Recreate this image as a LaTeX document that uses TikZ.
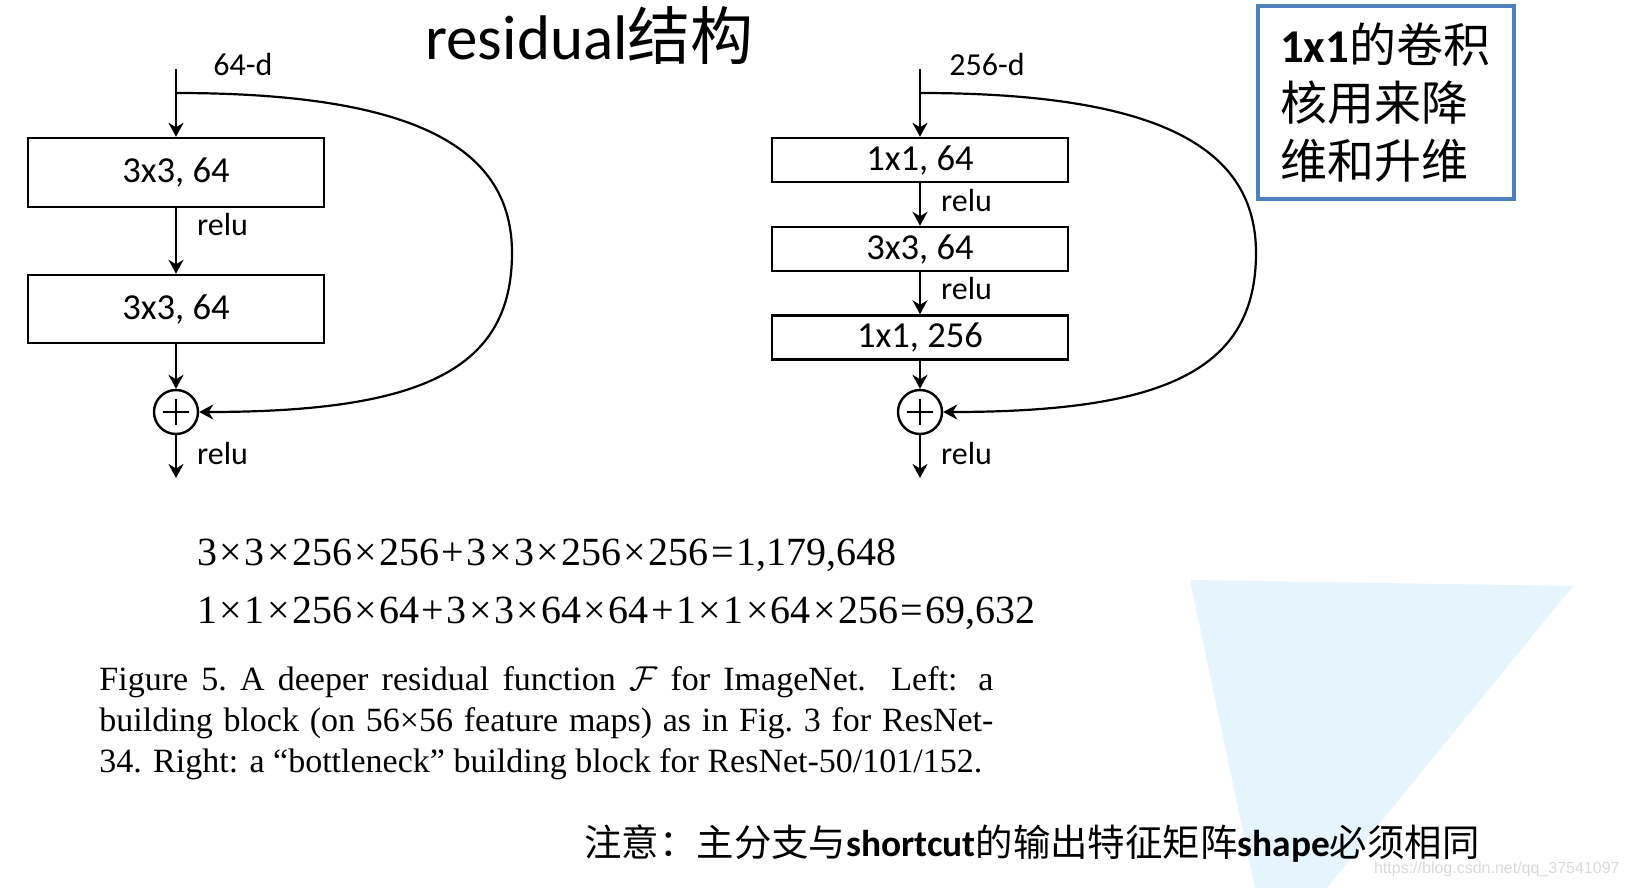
\documentclass[tikz,border=0pt]{standalone}
\usepackage{fontspec}
\setmainfont{Liberation Serif}
\newfontfamily\carlito{Carlito}
\newfontfamily\cjk{Noto Sans CJK SC}
\newfontfamily\webfont{Liberation Sans}
\usetikzlibrary{arrows.meta,positioning}
\definecolor{boxblue}{HTML}{4F81BD}
\definecolor{lightsky}{HTML}{E6F5FD}
\definecolor{wmgray}{HTML}{D9D9D9}
\newcommand{\op}[1]{\hspace{1.2pt}#1\hspace{1.2pt}}

\begin{document}
\begin{tikzpicture}[x=0.5pt,y=0.5pt,
  >={Stealth[length=7pt,width=7.5pt]},
  every node/.style={inner sep=0pt},
  layer/.style={draw,line width=1.2pt,minimum width=148pt,font=\carlito\fontsize{18.3}{20}\selectfont},
  lbl/.style={font=\carlito\fontsize{16}{18}\selectfont},
  addop/.style={draw,circle,line width=1.2pt,minimum size=22pt,
    path picture={\draw[line width=1.2pt]
      ([xshift=-6.5pt]path picture bounding box.center) -- ([xshift=6.5pt]path picture bounding box.center)
      ([yshift=-6.5pt]path picture bounding box.center) -- ([yshift=6.5pt]path picture bounding box.center);}},
  flow/.style={->,line width=1.1pt}]
\useasboundingbox (0,0) rectangle (1630,-888);
\fill[lightsky] (1190,-580) -- (1573,-586) -- (1327,-888) -- (1255,-888) -- cycle;

% title
\node[anchor=base west] (title) at (425,-60) {\fontsize{31.5}{34}\selectfont{\carlito residual}{\cjk 结构}};

% plain block
\coordinate (l-in) at (176,-69);
\coordinate (l-split) at (176,-93);
\node[layer,minimum height=34.5pt] (l-conv1) at (176,-172.5) {3x3, 64};
\node[layer,minimum height=34pt] (l-conv2) at (176,-309) {3x3, 64};
\node[addop] (l-add) at (176,-412) {};
\coordinate (l-out) at (176,-478);
\coordinate (l-far) at (512,-253);
\node[lbl,anchor=west] (l-dim) at (213,-65) {64-d};
\draw[flow] (l-in) -- (l-conv1);
\draw[flow] (l-conv1) -- node[lbl,pos=0.25,right=10pt] {relu} (l-conv2);
\draw[flow] (l-conv2) -- (l-add);
\draw[flow] (l-add) -- node[lbl,pos=0.43,right=10pt] {relu} (l-out);
\draw[flow] (l-split) .. controls +(244,0) and +(0,103) .. (l-far) .. controls +(0,-117) and +(222,0) .. (l-add.east);

% bottleneck block
\coordinate (r-in) at (920,-69);
\coordinate (r-split) at (920,-93);
\node[layer,minimum height=22pt] (r-conv1) at (920,-160) {1x1, 64};
\node[layer,minimum height=22pt] (r-conv2) at (920,-249) {3x3, 64};
\node[layer,minimum height=22pt] (r-conv3) at (920,-337.5) {1x1, 256};
\node[addop] (r-add) at (920,-412) {};
\coordinate (r-out) at (920,-478);
\coordinate (r-far) at (1256,-253);
\node[lbl,anchor=west] (r-dim) at (949,-65) {256-d};
\draw[flow] (r-in) -- (r-conv1);
\draw[flow] (r-conv1) -- node[lbl,pos=0.4,right=10pt] {relu} (r-conv2);
\draw[flow] (r-conv2) -- node[lbl,pos=0.39,right=10pt] {relu} (r-conv3);
\draw[flow] (r-conv3) -- (r-add);
\draw[flow] (r-add) -- node[lbl,pos=0.43,right=10pt] {relu} (r-out);
\draw[flow] (r-split) .. controls +(244,0) and +(0,103) .. (r-far) .. controls +(0,-117) and +(222,0) .. (r-add.east);

% note box
\node[draw=boxblue,line width=2pt,anchor=north west,minimum height=96.5pt,
  inner xsep=11pt,text width=106pt,align=left,
  font=\fontsize{23.5}{29}\selectfont] (dim-note) at (1256,-4)
  {{\carlito\bfseries 1x1}{\cjk 的卷积}\\{\cjk 核用来降}\\{\cjk 维和升维}};

% parameter counts
\node[anchor=base west,font=\fontsize{20}{22}\selectfont] (eq-plain) at (197,-565)
  {3\op{×}3\op{×}256\op{×}256\op{+}3\op{×}3\op{×}256\op{×}256\op{=}1,179,648};
\node[anchor=base west,font=\fontsize{20}{22}\selectfont] (eq-neck) at (197,-623)
  {1\op{×}1\op{×}256\op{×}64\op{+}3\op{×}3\op{×}64\op{×}64\op{+}1\op{×}1\op{×}64\op{×}256\op{=}69,632};

% caption
\node[anchor=north west,text width=447pt,align=justify,font=\fontsize{17}{20.5}\selectfont] (caption) at (99,-666)
  {Figure 5.\ A deeper residual function $\mathcal{F}$ for ImageNet.  Left: a\linebreak
   building block (on 56×56 feature maps) as in Fig.\ 3 for ResNet-\linebreak
   34. Right: a ``bottleneck'' building block for ResNet-50/101/152.};

% remark
\node[anchor=base west,font=\fontsize{18.7}{20}\selectfont] (remark) at (584,-856)
  {\cjk 注意：主分支与{\carlito\bfseries shortcut}的输出特征矩阵{\carlito\bfseries shape}必须相同};
\node[anchor=east,text=wmgray,font=\webfont\fontsize{8}{9}\selectfont] (mark) at (1620,-869)
  {https://blog.csdn.net/qq\_37541097};
\end{tikzpicture}
\end{document}
